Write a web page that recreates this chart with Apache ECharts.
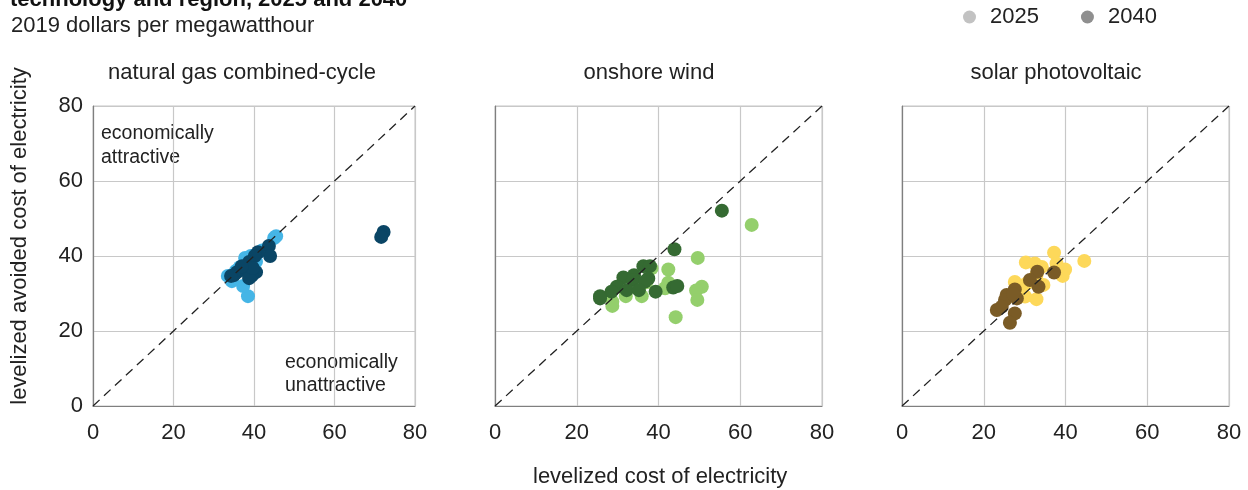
<!DOCTYPE html>
<html>
<head>
<meta charset="utf-8">
<script src="https://cdn.jsdelivr.net/npm/echarts@6/dist/echarts.min.js"></script>
<style>
    html, body { margin: 0; padding: 0; background: #fff; }
    #chart { width: 1248px; height: 490px; }
</style>
</head>
<body>
<div id="chart"></div>
<script>
    // panel titles and axis ticks
    var panelTitles = ['natural gas combined-cycle', 'onshore wind', 'solar photovoltaic'];
    var tickValues = [0, 20, 40, 60, 80];
    var years = ['2025', '2040'];

    // [levelized cost, levelized avoided cost]
    var gas2025 = [[45, 44.8], [45.5, 45.3], [38.5, 29.3], [37.3, 32], [33.5, 34.7], [34.5, 33.3],
        [37.8, 39.5], [39.2, 40], [36.5, 37], [42, 41.5], [40.5, 38.5], [35.5, 36]];
    var gas2040 = [[72.2, 46.4], [71.6, 45.1], [43.7, 42.7], [44, 40], [41, 41], [40.2, 40],
        [38.8, 38.4], [40.5, 35.7], [39.4, 34.7], [36.8, 36.3], [35.8, 35.7], [35, 34.9],
        [34.3, 34.7], [38, 36.8], [38.8, 34.1], [39.7, 36.8], [37, 37.3]];
    var wind2025 = [[62.8, 48.3], [49.6, 39.5], [42.4, 36.4], [42.4, 32.9], [41.6, 31.4],
        [50.6, 31.8], [49.2, 30.8], [49.5, 28.3], [44.2, 23.7], [28.7, 26.7], [28.7, 27.8],
        [32, 29.3], [35.9, 29.3], [38.3, 36.7], [37, 33]];
    var wind2040 = [[55.5, 52.1], [43.9, 41.8], [36.3, 37.3], [37.9, 37.3], [31.4, 34.3],
        [34, 34.9], [33.7, 33.6], [37.5, 34], [36.7, 33.2], [29.8, 31.8], [28.5, 30.5],
        [32.2, 30.9], [35.2, 30.9], [39.3, 30.5], [25.7, 29.3], [25.7, 28.7], [43.6, 31.6],
        [44.6, 32]];
    var solar2025 = [[44.6, 38.7], [37.2, 40.9], [30.3, 38.3], [32.5, 38], [34.2, 37.1],
        [37.8, 38], [39.9, 36.4], [39.3, 34.7], [34.6, 32.3], [32.9, 28.5], [30.5, 32.7],
        [27.6, 33.1], [28.5, 30.5], [30.1, 29.2], [32.9, 34.9]];
    var solar2040 = [[37.2, 35.6], [33.1, 35.8], [31.3, 33.6], [33.4, 31.8], [27.6, 31.1],
        [25.6, 29.6], [25.2, 28.3], [28.1, 28.7], [23.2, 25.6], [24.4, 26.5], [27.6, 24.7],
        [26.4, 22.2], [27.2, 29.8]];
    var diagonal = [[0, 0], [80, 80]];

    var panelData = [[gas2025, gas2040], [wind2025, wind2040], [solar2025, solar2040]];
    var panelColors = [['#45b5e6', '#0a4565'], ['#94cf6c', '#356a32'], ['#fdd85a', '#7a5b26']];
    var legendColors = ['#b3b3b3', '#737373'];

    var font = 'Liberation Sans, Arial, sans-serif';
    var grids = [
        { left: 93, top: 106, width: 322, height: 300 },
        { left: 495, top: 106, width: 327, height: 300 },
        { left: 902, top: 106, width: 327, height: 300 }
    ];
    var titleCenters = [242, 649, 1056];

    var xAxes = [], yAxes = [], series = [], titles = [];
    grids.forEach(function (g, i) {
        g.show = true;
        g.borderColor = '#c4c4c4';
        g.borderWidth = 1;
        xAxes.push({
            type: 'value', gridIndex: i, min: 0, max: 80, interval: 20,
            axisLine: { show: true, onZero: false, lineStyle: { color: '#7f7f7f', width: 1.2 } },
            axisTick: { show: false },
            splitLine: { lineStyle: { color: '#c8c8c8', width: 1.2 } },
            axisLabel: { color: '#222', fontSize: 22, fontFamily: font, margin: 16 }
        });
        yAxes.push({
            type: 'value', gridIndex: i, min: 0, max: 80, interval: 20,
            axisLine: { show: true, onZero: false, lineStyle: { color: '#7f7f7f', width: 1.2 } },
            axisTick: { show: false },
            splitLine: { lineStyle: { color: '#c8c8c8', width: 1.2 } },
            axisLabel: { show: i === 0, color: '#222', fontSize: 22, fontFamily: font, margin: 10 }
        });
        titles.push({
            text: panelTitles[i],
            left: titleCenters[i],
            textAlign: 'center',
            top: 62,
            padding: 0,
            textStyle: { color: '#222', fontSize: 22, fontWeight: 'normal', fontFamily: font }
        });
        series.push({
            type: 'line', xAxisIndex: i, yAxisIndex: i, data: diagonal,
            symbol: 'none', silent: true,
            lineStyle: { color: '#222', width: 1.3, type: [9, 6] }
        });
        panelData[i].forEach(function (d, k) {
            series.push({
                type: 'scatter', xAxisIndex: i, yAxisIndex: i, data: d,
                symbolSize: 14,
                itemStyle: { color: panelColors[i][k], opacity: 1 }
            });
        });
    });

    // legend-only series in gray
    years.forEach(function (y, k) {
        series.push({
            name: y, type: 'scatter', xAxisIndex: 0, yAxisIndex: 0, data: [],
            itemStyle: { color: legendColors[k] }
        });
    });

    titles.unshift({
        text: 'technology and region, 2025 and 2040',
        left: 10, top: -11, padding: 0,
        textStyle: { color: '#111', fontSize: 22, fontWeight: 'bold', fontFamily: font }
    }, {
        text: '2019 dollars per megawatthour',
        left: 11, top: 15, padding: 0,
        textStyle: { color: '#222', fontSize: 22, fontWeight: 'normal', fontFamily: font }
    });

    var chart = echarts.init(document.getElementById('chart'));
    chart.setOption({
        animation: false,
        title: titles,
        legend: {
            data: years,
            left: 963, top: 6, padding: 0,
            icon: 'circle',
            itemWidth: 13, itemHeight: 13,
            itemGap: 42,
            textStyle: { color: '#222', fontSize: 22, fontFamily: font, padding: [0, 0, 0, 9] }
        },
        grid: grids,
        xAxis: xAxes,
        yAxis: yAxes,
        series: series,
        graphic: [
            { type: 'text', left: 101, top: 122,
              style: { text: 'economically\nattractive', fill: '#222', fontSize: 19.5, lineHeight: 24, fontFamily: font } },
            { type: 'text', left: 285, top: 351,
              style: { text: 'economically\nunattractive', fill: '#222', fontSize: 19.5, lineHeight: 23, fontFamily: font } },
            { type: 'text', left: 533, top: 466,
              style: { text: 'levelized cost of electricity', fill: '#222', fontSize: 22, fontFamily: font } },
            { type: 'text', x: 20, y: 236, rotation: Math.PI / 2,
              style: { text: 'levelized avoided cost of electricity', fill: '#222', fontSize: 22,
                       fontFamily: font, align: 'center', verticalAlign: 'middle' } }
        ]
    });
</script>
</body>
</html>
